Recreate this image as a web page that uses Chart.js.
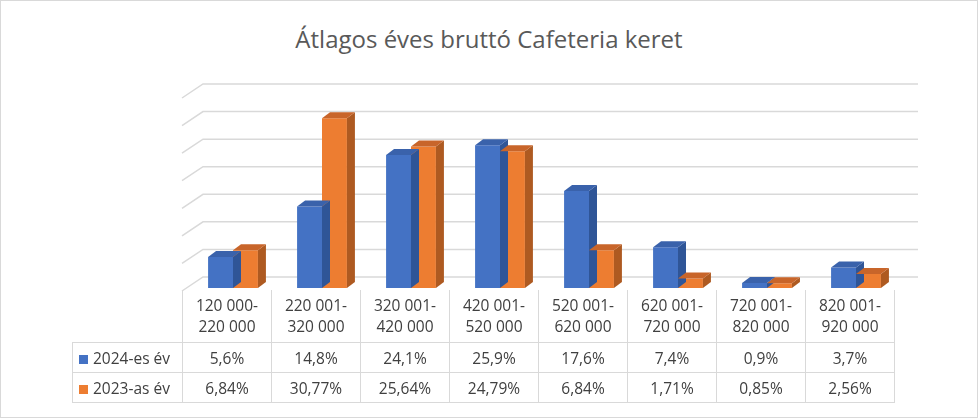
<!DOCTYPE html>
<html><head><meta charset="utf-8">
<script src="https://cdn.jsdelivr.net/npm/chart.js@4"></script>
<style>
body{margin:0;width:978px;height:418px;position:relative;font-family:'Open Sans','Liberation Sans',sans-serif;color:#404040;background:#fff}
#frame{position:absolute;left:0;top:0;width:976px;height:416px;border:1px solid #d9d9d9}
#title{position:absolute;left:0;width:978px;top:22px;text-align:center;font-size:24px;color:#595959}
canvas{position:absolute;left:0;top:0}
table{position:absolute;left:72px;top:290px;border-collapse:collapse;font-size:15.5px}
td{border:1px solid #d9d9d9;text-align:center;padding:0;height:29px;width:88px}
td.h{height:52px;line-height:21px;border-top:none}
td.e{border:none;border-right:1px solid #d9d9d9;width:109px}
td.l{text-align:left;padding-left:6px;width:103px}
.sq{display:inline-block;width:9px;height:9px;margin-right:5px}
</style></head><body>
<div id="frame"></div>
<div id="title">Átlagos éves bruttó Cafeteria keret</div>
<canvas id="c" width="978" height="418"></canvas>
<table id="tbl"></table>
<script>
// adatok
const kategoriak = [['120 000-','220 000'],['220 001-','320 000'],['320 001-','420 000'],['420 001-','520 000'],
  ['520 001-','620 000'],['620 001-','720 000'],['720 001-','820 000'],['820 001-','920 000']];
const ev2024 = [5.6, 14.8, 24.1, 25.9, 17.6, 7.4, 0.9, 3.7];
const ev2023 = [6.84, 30.77, 25.64, 24.79, 6.84, 1.71, 0.85, 2.56];
const cimke2024 = ['5,6%','14,8%','24,1%','25,9%','17,6%','7,4%','0,9%','3,7%'];
const cimke2023 = ['6,84%','30,77%','25,64%','24,79%','6,84%','1,71%','0,85%','2,56%'];

const KEK = '#4472c4', NARANCS = '#ed7d31';
const arnyek = {'#4472c4':['#2f5597','#3a62ab'], '#ed7d31':['#ae5a21','#c8652a']};

// táblázat
let html = '<tr><td class="e"></td>' + kategoriak.map(k => `<td class="h">${k[0]}<br>${k[1]}</td>`).join('') + '</tr>';
html += `<tr><td class="l"><span class="sq" style="background:${KEK}"></span>2024-es év</td>` + cimke2024.map(v => `<td>${v}</td>`).join('') + '</tr>';
html += `<tr><td class="l"><span class="sq" style="background:${NARANCS}"></span>2023-as év</td>` + cimke2023.map(v => `<td>${v}</td>`).join('') + '</tr>';
document.getElementById('tbl').innerHTML = html;

// 3D rács és oldallapok
const harom_d = {
  id: 'haromD',
  beforeDatasetsDraw(chart) {
    const {ctx, chartArea: a, scales: {y}} = chart;
    ctx.save();
    ctx.strokeStyle = '#d9d9d9'; ctx.lineWidth = 1.5;
    for (let v = 0; v <= 35; v += 5) {
      const py = y.getPixelForValue(v);
      ctx.beginPath();
      ctx.moveTo(a.left - 6.5, py + 3);
      ctx.lineTo(a.left + 14.5, py - 11);
      ctx.lineTo(a.right + 17.5, py - 11);
      ctx.stroke();
    }
    ctx.restore();
  },
  afterDatasetsDraw(chart) {
    const ctx = chart.ctx, dx = 8, dy = -6;
    ctx.save();
    chart.data.datasets.forEach((ds, i) => {
      const [side, top] = arnyek[ds.backgroundColor];
      chart.getDatasetMeta(i).data.forEach(b => {
        const l = b.x - b.width / 2, r = b.x + b.width / 2, t = b.y, bot = b.base;
        ctx.fillStyle = side;
        ctx.beginPath();
        ctx.moveTo(r, t); ctx.lineTo(r + dx, t + dy); ctx.lineTo(r + dx, bot + dy); ctx.lineTo(r, bot);
        ctx.fill();
        ctx.fillStyle = top;
        ctx.beginPath();
        ctx.moveTo(l, t); ctx.lineTo(l + dx, t + dy); ctx.lineTo(r + dx, t + dy); ctx.lineTo(r, t);
        ctx.fill();
      });
    });
    ctx.restore();
  }
};

new Chart(document.getElementById('c').getContext('2d'), {
  type: 'bar',
  data: {
    labels: kategoriak.map(k => k.join(' ')),
    datasets: [
      {label: '2024-es év', data: ev2024, backgroundColor: KEK},
      {label: '2023-as év', data: ev2023, backgroundColor: NARANCS}
    ]
  },
  options: {
    responsive: false, animation: false,
    layout: {padding: {left: 188.5, right: 77.5, top: 95, bottom: 130}},
    categoryPercentage: 0.56, barPercentage: 1,
    plugins: {legend: {display: false}, tooltip: {enabled: false}},
    scales: {
      x: {display: false},
      y: {display: false, min: 0, max: 35}
    }
  },
  plugins: [harom_d]
});
</script>
</body></html>
